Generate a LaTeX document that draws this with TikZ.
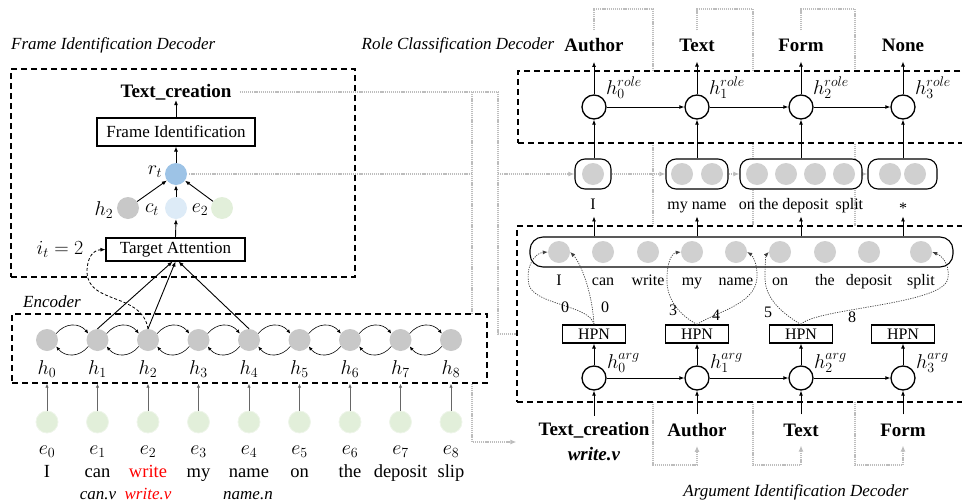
\RequirePackage{fix-cm}
\documentclass[tikz,border=0pt]{standalone}
\usepackage{fontspec}
\setmainfont{Liberation Serif}
\usetikzlibrary{arrows.meta}
\definecolor{hgray}{HTML}{C8C8C8}
\definecolor{egreen}{HTML}{E2EFDA}
\definecolor{rblue}{HTML}{9DC3E6}
\definecolor{cblue}{HTML}{DDEBF7}
\definecolor{sgray}{HTML}{D0D0D0}
\definecolor{glinec}{HTML}{BDBDBD}
\pgfdeclarelayer{glayer}
\pgfdeclarelayer{blayer}
\pgfsetlayers{glayer,blayer,main}
\begin{document}
\begin{tikzpicture}[x=1pt,y=-1pt,
  every node/.style={inner sep=0pt},
  txt/.style={font=\fontsize{17}{20}\selectfont},
  stxt/.style={font=\fontsize{16}{19}\selectfont},
  wtxt/.style={font=\fontsize{18.5}{22}\selectfont},
  btxt/.style={font=\fontsize{19}{25}\selectfont\bfseries},
  ttl/.style={font=\fontsize{17}{20}\selectfont\itshape},
  mth/.style={font=\fontsize{20}{22}\selectfont},
  arr/.style={-{Latex[length=5pt,width=4pt]}, line width=0.9pt},
  sarr/.style={-{Latex[length=4pt,width=3.5pt]}, line width=0.6pt},
  earr/.style={-{Latex[length=4pt,width=3.5pt]}, line width=0.8pt, draw=black!60},
  ball/.style={circle, minimum size=22pt, draw=none},
  rnn/.style={circle, minimum size=24pt, draw, line width=1.3pt, fill=white},
  pbox/.style={draw, line width=1.1pt, fill=white},
  sbox/.style={draw, line width=1.1pt, rounded corners=10pt, fill=white, minimum height=30pt},
  dbox/.style={draw, line width=1.4pt, dash pattern=on 6pt off 4pt},
  gl/.style={draw=glinec, line width=1.3pt, dash pattern=on 1.2pt off 0.9pt},
  garr/.style={gl, -{Latex[length=6pt,width=5pt]}},
  ptr/.style={draw=black!75, line width=0.7pt, dash pattern=on 1.2pt off 1.2pt, -{Latex[length=5pt,width=4pt]}},
]
\useasboundingbox (0,0) rectangle (962,501);

% ---------- dashed boxes ----------
\begin{pgfonlayer}{blayer}
\node[dbox, fill=white, minimum width=475pt, minimum height=69pt] (encBox) at (249.5,348.5) {};
\node[dbox, fill=white, minimum width=480pt, minimum height=176pt] (argBox) at (757,314) {};
\node[dbox, fill=white, minimum width=480pt, minimum height=72pt] (roleBox) at (758,107) {};
\end{pgfonlayer}
\node[dbox, minimum width=344pt, minimum height=208pt] (frameBox) at (183,173) {};

% ---------- titles ----------
\node[ttl, anchor=west] (tFrame) at (11,45) {Frame Identification Decoder};
\node[ttl] (tRole) at (458,45) {Role Classification Decoder};
\node[ttl] (tEnc) at (52,302) {Encoder};
\node[ttl] (tArg) at (796,492) {Argument Identification Decoder};

% ---------- frame identification decoder ----------
\node[btxt] (TC) at (176,92) {Text\_creation};
\node[pbox, txt, minimum width=158pt, minimum height=28pt] (FI) at (176,132) {Frame Identification};
\node[ball, fill=rblue] (rt) at (176,174) {};
\node[mth] (rtl) at (155,172) {$r_t$};
\node[ball, fill=hgray] (fh2) at (128,208) {};
\node[ball, fill=cblue] (fct) at (176,208) {};
\node[ball, fill=egreen] (fe2) at (222,208) {};
\node[mth] (fh2l) at (104,210) {$h_2$};
\node[mth] (fctl) at (152,210) {$c_t$};
\node[mth] (fe2l) at (200,210) {$e_2$};
\node[pbox, txt, minimum width=139pt, minimum height=23pt] (TA) at (175.5,249.5) {Target Attention};
\node[mth] (itl) at (60,249) {$i_t=2$};

\draw[arr] (FI.north) -- (TC.south);
\draw[arr] (rt.north) -- (FI.south);
\draw[arr] (fh2) -- (rt);
\draw[arr] (fct) -- (rt);
\draw[arr] (fe2) -- (rt);
\draw[arr] (TA.north) -- (fct.south);

% ---------- encoder ----------
\foreach \i in {0,...,8} {
  \pgfmathsetmacro{\xx}{47+50.5*\i}
  \node[ball, fill=hgray] (h\i) at (\xx,340) {};
  \node[mth] (hl\i) at (\xx,369) {$h_{\i}$};
  \node[ball, fill=egreen, draw=egreen!60!white, line width=0.8pt] (e\i) at (\xx,422) {};
  \node[mth] (el\i) at (\xx,452) {$e_{\i}$};
  \draw[earr] (e\i.north) -- (e\i.north |- encBox.south);
}
\foreach \i/\w in {0/I,1/can,2/{\textcolor{red}{write}},3/my,4/name,5/on,6/the,7/deposit,8/slip} {
  \pgfmathsetmacro{\xx}{47+50.5*\i}
  \node[wtxt, anchor=base] (w\i) at (\xx,477) {\w};
}
\node[ttl, anchor=base] (lm1) at (98,499) {can.v};
\node[ttl, anchor=base, text=red] (lm2) at (148,499) {write.v};
\node[ttl, anchor=base] (lm4) at (248,499) {name.n};

\foreach \i/\j in {0/1,1/2,2/3,3/4,4/5,5/6,6/7,7/8} {
  \draw[sarr] (h\i.35) .. controls +(9,-11) and +(-9,-11) .. (h\j.145);
  \draw[sarr] (h\j.215) .. controls +(-9,11) and +(9,11) .. (h\i.325);
}
\draw[arr] (h1.north) -- ([xshift=-3pt]TA.south);
\draw[arr] (h2.north) -- (TA.south);
\draw[arr] (h4.north) -- ([xshift=3pt]TA.south);
\draw[arr, dash pattern=on 3pt off 2pt, line width=0.8pt] (h2.north) .. controls (142,292) and (88,305) .. (87,272) .. controls (87,256) and (94,250) .. (TA.west);

% ---------- argument identification decoder ----------
\node[draw, line width=1.1pt, rounded corners=13pt, minimum width=423pt, minimum height=30pt, fill=white] (sent) at (741.5,252) {};
\foreach \i/\xx/\w in {0/559/I,1/603/can,2/648/write,3/692/my,4/736/name,5/780/on,6/825/the,7/869/deposit,8/921/split} {
  \node[ball, fill=sgray] (s\i) at (\xx,252) {};
  \node[stxt, anchor=base] (sw\i) at (\xx,285) {\w};
}
\foreach \i/\xx in {0/594,1/697,2/801,3/903} {
  \node[rnn] (a\i) at (\xx,378) {};
  \node[pbox, stxt, minimum width=63pt, minimum height=18pt] (HPN\i) at (\xx,334) {HPN};
  \node[mth, anchor=west] (al\i) at (\xx+13,363) {$h_{\i}^{arg}$};
  \draw[arr] (a\i.north) -- (HPN\i.south);
}
\node[btxt, align=center] (inTC) at (594,442) {Text\_creation\\\textit{write.v}};
\node[btxt] (inA) at (697,430) {Author};
\node[btxt] (inT) at (801,430) {Text};
\node[btxt] (inF) at (903,430) {Form};
\draw[arr] ([yshift=7pt]inTC.north) -- (a0.south);
\draw[arr] ([yshift=9pt]inA.north) -- (a1.south);
\draw[arr] ([yshift=9pt]inT.north) -- (a2.south);
\draw[arr] ([yshift=9pt]inF.north) -- (a3.south);
\draw[arr] (a0.east) -- (a1.west);
\draw[arr] (a1.east) -- (a2.west);
\draw[arr] (a2.east) -- (a3.west);

\node[stxt] (n0a) at (565,307) {0};
\node[stxt] (n0b) at (605,307) {0};
\node[stxt] (n1a) at (673,310) {3};
\node[stxt] (n1b) at (716,315) {4};
\node[stxt] (n2a) at (768,312) {5};
\node[stxt] (n2b) at (852,317) {8};

\draw[ptr] (HPN0.north) .. controls (590,305) and (535,305) .. (529,285) .. controls (525,266) and (535,253) .. (s0.west);
\draw[ptr] (HPN0.north) .. controls (592,290) and (580,262) .. (s0.east);
\draw[ptr] (HPN1.north) .. controls (680,315) and (666,300) .. (667,278) .. controls (667,262) and (672,253) .. (s3.west);
\draw[ptr] (HPN1.north) .. controls (715,312) and (755,305) .. (757,278) .. controls (758,264) and (752,255) .. (s4.east);
\draw[ptr] (HPN2.north) .. controls (785,315) and (765,300) .. (765,278) .. controls (765,262) and (766,255) .. (s5.west);
\draw[ptr] (HPN2.north) .. controls (815,308) and (945,305) .. (948,278) .. controls (950,262) and (940,255) .. (s8.east);

% ---------- segments ----------
\node[sbox, minimum width=36pt] (segI) at (593,174) {};
\node[sbox, minimum width=62pt] (segMN) at (697,174) {};
\node[sbox, minimum width=122pt] (segODS) at (801,174) {};
\node[sbox, minimum width=69pt] (segS) at (902.5,174) {};
\foreach \n/\xx in {c0/593,c1/682,c2/712,c3/757,c4/786,c5/815,c6/844,c7/890,c8/915} {
  \node[ball, fill=sgray] (\n) at (\xx,174) {};
}
\node[stxt, anchor=base] (lsI) at (593,209) {I};
\node[stxt, anchor=base] (lsMN) at (697,209) {my name};
\node[stxt, anchor=base] (lsODS) at (801,209) {on the deposit\hspace{3pt} split};
\node[stxt, anchor=base] (lsS) at (903,213) {*};

% ---------- role classification decoder ----------
\foreach \i/\xx/\w/\nm in {0/594/Author/lA,1/697/Text/lT,2/801/Form/lF,3/903/None/lN} {
  \node[rnn] (r\i) at (\xx,107) {};
  \node[mth, anchor=west] (rl\i) at (\xx+12,88) {$h_{\i}^{role}$};
  \node[btxt] (\nm) at (\xx,45) {\w};
  \draw[arr] (r\i.north) -- ([yshift=-10pt]\nm.south);
  \draw[arr] (sent.north -| r\i) -- +(0,-20);
}
\draw[arr] (r0 |- segI.north) -- (r0.south);
\draw[arr] (r1 |- segMN.north) -- (r1.south);
\draw[arr] (r2 |- segODS.north) -- (r2.south);
\draw[arr] (r3 |- segS.north) -- (r3.south);
\draw[arr] (r0.east) -- (r1.west);
\draw[arr] (r1.east) -- (r2.west);
\draw[arr] (r2.east) -- (r3.west);

% ---------- gray connectors ----------
\begin{pgfonlayer}{glayer}
\coordinate (j1) at (472,92);
\coordinate (j2) at (498,92);
\draw[gl] ([xshift=8pt]TC.east) -- (j2);
\draw[garr] (j1) |- ([xshift=-22pt]inTC.west);
\draw[garr] (j2) |- (HPN0.west);
\draw[gl] ([xshift=2pt]rt.east) -- (rt.east -| j1);
\draw[garr] (rt.east -| j2) -- (segI.west);
\draw[garr] (HPN0.east) -- (HPN1.west);
\draw[garr] (HPN1.east) -- (HPN2.west);
\draw[garr] (HPN2.east) -- (HPN3.west);
\draw[garr] (segI.east) -- (segMN.west);
\draw[garr] (segMN.east) -- (segODS.west);
\draw[garr] (segODS.east) -- (segS.west);
\coordinate (fbA) at (653,9);
\coordinate (fbAb) at (653,465);
\coordinate (fbT) at (753,9);
\coordinate (fbTb) at (753,465);
\coordinate (fbF) at (855,9);
\coordinate (fbFb) at (855,465);
\draw[garr] ([yshift=8pt]lA.north) |- (fbA) -- (fbAb) -| ([yshift=-9pt]inA.south);
\draw[garr] ([yshift=8pt]lT.north) |- (fbT) -- (fbTb) -| ([yshift=-9pt]inT.south);
\draw[garr] ([yshift=8pt]lF.north) |- (fbF) -- (fbFb) -| ([yshift=-9pt]inF.south);
\end{pgfonlayer}
\end{tikzpicture}
\end{document}
